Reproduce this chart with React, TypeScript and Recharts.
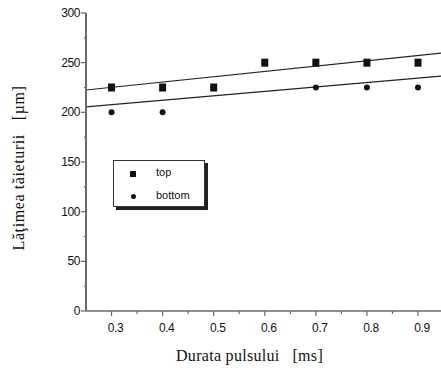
import React from 'react';
import {
  ComposedChart,
  Scatter,
  Line,
  XAxis,
  YAxis,
  Legend,
  Label
} from 'recharts';

// pulse duration (ms)
const durations = [0.3, 0.4, 0.5, 0.6, 0.7, 0.8, 0.9];
// cut width (µm)
const topWidths = [225, 225, 225, 250, 250, 250, 250];
const bottomWidths = [200, 200, 225, 250, 225, 225, 225];

// fitted lines, end points
const topFitX = [0.25, 0.945];
const topFitY = [222.5, 259.7];
const bottomFitX = [0.25, 0.945];
const bottomFitY = [205.5, 236.5];

const xMajorTicks = [0.3, 0.4, 0.5, 0.6, 0.7, 0.8, 0.9];
const xMinorTicks = [0.35, 0.45, 0.55, 0.65, 0.75, 0.85];
const yMajorTicks = [0, 50, 100, 150, 200, 250, 300];
const yMinorTicks = [25, 75, 125, 175, 225, 275];

const topData = durations.map((d, i) => ({ x: d, y: topWidths[i] }));
const bottomData = durations.map((d, i) => ({ x: d, y: bottomWidths[i] }));
const topFit = topFitX.map((d, i) => ({ x: d, y: topFitY[i] }));
const bottomFit = bottomFitX.map((d, i) => ({ x: d, y: bottomFitY[i] }));

const xTicks = [...xMajorTicks, ...xMinorTicks].sort((a, b) => a - b);
const yTicks = [...yMajorTicks, ...yMinorTicks].sort((a, b) => a - b);

const tickFont = "'Liberation Sans', Arial, sans-serif";
const titleFont = "'Liberation Serif', 'Times New Roman', serif";
const axisColor = '#6a6a6a';

const XTick = ({ x, y, payload }: any) => {
  const v = payload.value;
  const major = xMajorTicks.some((t) => Math.abs(t - v) < 1e-6);
  return (
    <g>
      <line x1={x} x2={x} y1={y} y2={y + (major ? 5 : 3)} stroke={axisColor} strokeWidth={1.2} />
      {major && (
        <text x={x + 4} y={y + 21} textAnchor="middle" fontFamily={tickFont} fontSize={12} letterSpacing={-0.4} fill="#111">
          {v.toFixed(1)}
        </text>
      )}
    </g>
  );
};

const YTick = ({ x, y, payload }: any) => {
  const v = payload.value;
  const major = yMajorTicks.includes(v);
  return (
    <g>
      <line x1={x - (major ? 5 : 2)} x2={x} y1={y} y2={y} stroke={axisColor} strokeWidth={1.2} />
      {major && (
        <text x={x - 6} y={y + 4} textAnchor="end" fontFamily={tickFont} fontSize={12} letterSpacing={-0.4} fill="#111">
          {v}
        </text>
      )}
    </g>
  );
};

const SquareDot = ({ cx, cy }: any) => (
  <rect x={cx - 3.5} y={cy - 4} width={7} height={8} fill="#111" />
);

const RoundDot = ({ cx, cy }: any) => <circle cx={cx} cy={cy} r={3} fill="#111" />;

const YTitle = ({ viewBox }: any) => {
  const cx = 18;
  const cy = viewBox.y + viewBox.height / 2 + 6;
  return (
    <text
      x={cx}
      y={cy}
      transform={`rotate(-90, ${cx}, ${cy})`}
      textAnchor="middle"
      dominantBaseline="central"
      fontFamily={titleFont}
      fontSize={16}
      letterSpacing={0.6}
      fill="#111"
      style={{ whiteSpace: 'pre' }}
    >
      {'Lăţimea tăieturii   [µm]'}
    </text>
  );
};

const XTitle = ({ viewBox }: any) => {
  const cx = viewBox.x + viewBox.width / 2 - 14;
  return (
    <text
      x={cx}
      y={361}
      textAnchor="middle"
      fontFamily={titleFont}
      fontSize={16}
      letterSpacing={0.3}
      fill="#111"
      style={{ whiteSpace: 'pre' }}
    >
      {'Durata pulsului   [ms]'}
    </text>
  );
};

const LegendBox = () => (
  <div
    style={{
      width: 92,
      height: 47,
      border: '1px solid #333',
      boxShadow: '3px 3px 0 #222',
      background: '#fff',
      fontFamily: tickFont,
      fontSize: 11,
      color: '#111',
      boxSizing: 'border-box',
      position: 'relative'
    }}
  >
    <div style={{ position: 'absolute', left: 16, top: 10, width: 6, height: 6, background: '#111' }} />
    <div style={{ position: 'absolute', left: 42, top: 5 }}>top</div>
    <div style={{ position: 'absolute', left: 17, top: 33, width: 5, height: 5, borderRadius: 3, background: '#111' }} />
    <div style={{ position: 'absolute', left: 42, top: 28 }}>bottom</div>
  </div>
);

export default function App() {
  return (
    <div style={{ position: 'absolute', left: 0, top: 0, width: 441, height: 374, background: '#fff' }}>
      <ComposedChart width={441} height={374} margin={{ top: 13, right: 0, bottom: 0, left: 0 }}>
        <XAxis
          type="number"
          dataKey="x"
          domain={[0.25, 0.945]}
          ticks={xTicks}
          interval={0}
          allowDataOverflow
          height={63}
          tickSize={0}
          tickMargin={0}
          tickLine={false}
          tick={<XTick />}
          axisLine={{ stroke: axisColor, strokeWidth: 1.5 }}
        >
          <Label content={<XTitle />} />
        </XAxis>
        <YAxis
          type="number"
          dataKey="y"
          domain={[0, 300]}
          ticks={yTicks}
          interval={0}
          width={86}
          tickSize={0}
          tickMargin={0}
          tickLine={false}
          tick={<YTick />}
          axisLine={{ stroke: axisColor, strokeWidth: 2 }}
        >
          <Label content={<YTitle />} />
        </YAxis>
        <Legend
          layout="horizontal"
          verticalAlign="middle"
          align="center"
          content={<LegendBox />}
          wrapperStyle={{ left: 113, top: 160, width: 96, height: 52 }}
        />
        <Line
          data={topFit}
          dataKey="y"
          stroke="#222"
          strokeWidth={1.2}
          dot={false}
          legendType="none"
          isAnimationActive={false}
        />
        <Line
          data={bottomFit}
          dataKey="y"
          stroke="#222"
          strokeWidth={1.2}
          dot={false}
          legendType="none"
          isAnimationActive={false}
        />
        <Scatter name="bottom" data={bottomData} shape={<RoundDot />} isAnimationActive={false} />
        <Scatter name="top" data={topData} shape={<SquareDot />} isAnimationActive={false} />
      </ComposedChart>
    </div>
  );
}
